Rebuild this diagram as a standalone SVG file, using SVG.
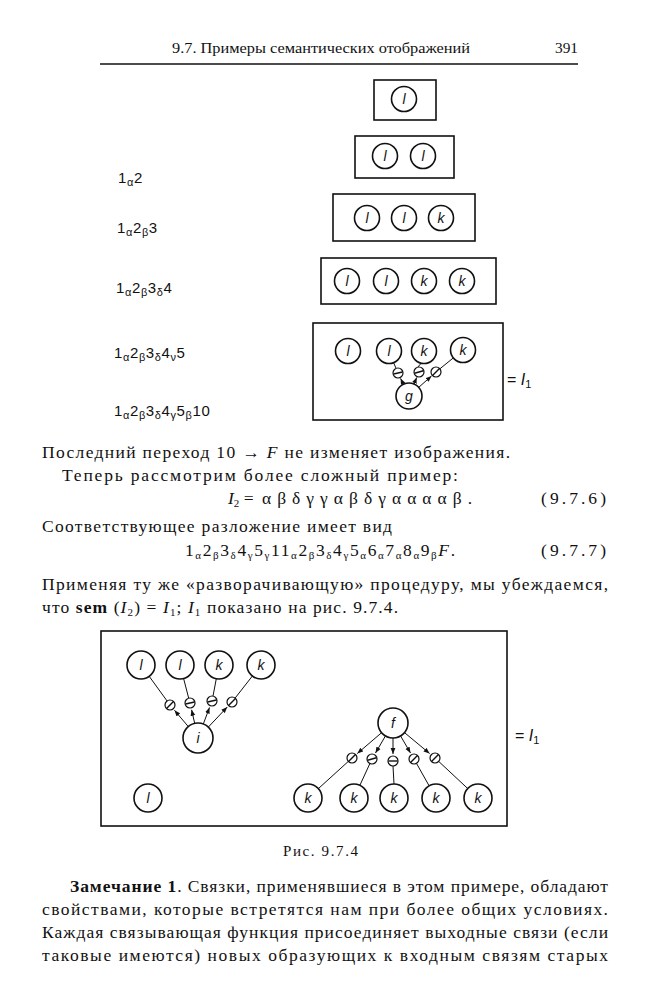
<svg xmlns="http://www.w3.org/2000/svg" width="652" height="1000" viewBox="0 0 652 1000">
<defs>
<style>
.box{fill:none;stroke:#111;stroke-width:1.6}
.nd circle{fill:#fff;stroke:#111;stroke-width:1.6}
.nd text{font-family:"Liberation Sans",sans-serif;font-style:italic;font-size:14px;text-anchor:middle;fill:#111}
.bd circle{fill:#fff;stroke:#111;stroke-width:1.2}
.bd line{stroke:#111;stroke-width:1.4}
.ed line{stroke:#111;stroke-width:1;fill:none}
.ar{marker-end:url(#ah)}
.t{font-family:"Liberation Serif",serif;font-size:17.5px;fill:#111}
.hd{font-family:"Liberation Serif",serif;font-size:15px;fill:#111}
.lab{font-family:"Liberation Sans",sans-serif;font-size:15px;fill:#111;letter-spacing:0.6px}
.s{font-size:11px}
.it{font-style:italic}
.eq{font-family:"Liberation Sans",sans-serif;font-size:16px;fill:#111}
</style>
<marker id="ah" viewBox="0 0 10 10" refX="10" refY="5" markerWidth="6" markerHeight="6" markerUnits="userSpaceOnUse" orient="auto"><path d="M0,1 L10,5 L0,9 z" fill="#111"/></marker>
</defs>
<rect width="652" height="1000" fill="#fff"/>

<!-- header -->
<g id="header">
<text class="hd" x="172" y="53" textLength="298" lengthAdjust="spacingAndGlyphs">9.7.  Примеры семантических отображений</text>
<text class="hd" x="555" y="53" textLength="23" lengthAdjust="spacingAndGlyphs">391</text>
<line x1="100" y1="64" x2="578" y2="64" stroke="#111" stroke-width="1.6"/>
</g>

<!-- left labels -->
<g id="labels">
<text class="lab" x="118" y="183">1<tspan class="s" dy="3">α</tspan><tspan dy="-3">2</tspan></text>
<text class="lab" x="117" y="233">1<tspan class="s" dy="3">α</tspan><tspan dy="-3">2</tspan><tspan class="s" dy="3">β</tspan><tspan dy="-3">3</tspan></text>
<text class="lab" x="116" y="293">1<tspan class="s" dy="3">α</tspan><tspan dy="-3">2</tspan><tspan class="s" dy="3">β</tspan><tspan dy="-3">3</tspan><tspan class="s" dy="3">δ</tspan><tspan dy="-3">4</tspan></text>
<text class="lab" x="114" y="358">1<tspan class="s" dy="3">α</tspan><tspan dy="-3">2</tspan><tspan class="s" dy="3">β</tspan><tspan dy="-3">3</tspan><tspan class="s" dy="3">δ</tspan><tspan dy="-3">4</tspan><tspan class="s" dy="3">ν</tspan><tspan dy="-3">5</tspan></text>
<text class="lab" x="114" y="416">1<tspan class="s" dy="3">α</tspan><tspan dy="-3">2</tspan><tspan class="s" dy="3">β</tspan><tspan dy="-3">3</tspan><tspan class="s" dy="3">δ</tspan><tspan dy="-3">4</tspan><tspan class="s" dy="3">γ</tspan><tspan dy="-3">5</tspan><tspan class="s" dy="3">β</tspan><tspan dy="-3">10</tspan></text>
</g>

<!-- stage frames -->
<g id="frames">
<rect class="box" x="374" y="80" width="62" height="40"/>
<rect class="box" x="355" y="136" width="99" height="42"/>
<rect class="box" x="333" y="194" width="142" height="47"/>
<rect class="box" x="321" y="258" width="175" height="46"/>
<rect class="box" x="313" y="323" width="190" height="97"/>
<rect class="box" x="101" y="631" width="406" height="195"/>
</g>

<!-- connectors -->
<g id="connectors" class="ed">
<!-- stage 5 -->
<line x1="393.5" y1="362.6" x2="396.1" y2="368.4"/>
<line class="ar" x1="403.4" y1="384.3" x2="400.6" y2="378.4"/>
<line x1="421.2" y1="363.2" x2="417.8" y2="367.1"/>
<line class="ar" x1="414" y1="384" x2="416.7" y2="377.5"/>
<line x1="453.7" y1="357.6" x2="439.9" y2="368.8"/>
<line class="ar" x1="418.7" y1="387.4" x2="431.5" y2="376"/>
<!-- fig 9.7.4, i -->
<line x1="149.2" y1="676.3" x2="167.1" y2="701"/>
<line x1="183.6" y1="678.5" x2="188.7" y2="698.2"/>
<line x1="216.3" y1="678.7" x2="213" y2="696.1"/>
<line x1="252.4" y1="676" x2="235.1" y2="698.1"/>
<line class="ar" x1="188.3" y1="726.6" x2="174.5" y2="710.3"/>
<line class="ar" x1="194.7" y1="723.4" x2="191.6" y2="709.8"/>
<line class="ar" x1="203.3" y1="724" x2="209.5" y2="707.5"/>
<line class="ar" x1="208.3" y1="727.1" x2="227.2" y2="707.1"/>
<!-- fig 9.7.4, f -->
<line class="ar" x1="381.6" y1="732.7" x2="357.3" y2="753.5"/>
<line class="ar" x1="385.4" y1="736" x2="375.5" y2="753"/>
<line class="ar" x1="393" y1="738" x2="393" y2="754"/>
<line class="ar" x1="400.6" y1="736" x2="410.5" y2="753"/>
<line class="ar" x1="404.5" y1="732.6" x2="429.6" y2="753.5"/>
<line x1="348.3" y1="761.4" x2="318.4" y2="788.6"/>
<line x1="369.9" y1="763.5" x2="359.9" y2="785.3"/>
<line x1="393" y1="766" x2="394" y2="784"/>
<line x1="416.5" y1="763.4" x2="429.1" y2="785.8"/>
<line x1="438.7" y1="761.4" x2="467.7" y2="788.5"/>
</g>

<!-- nodes: stage 1-4 -->
<g id="s1-l1" class="nd"><circle cx="404" cy="99" r="12.5"/><text x="404" y="104">l</text></g>
<g id="s2-l1" class="nd"><circle cx="385" cy="156" r="12.5"/><text x="385" y="161">l</text></g>
<g id="s2-l2" class="nd"><circle cx="423" cy="156" r="12.5"/><text x="423" y="161">l</text></g>
<g id="s3-l1" class="nd"><circle cx="367" cy="218" r="12.5"/><text x="367" y="223">l</text></g>
<g id="s3-l2" class="nd"><circle cx="404" cy="218" r="12.5"/><text x="404" y="223">l</text></g>
<g id="s3-k1" class="nd"><circle cx="441" cy="218" r="12.5"/><text x="441" y="223">k</text></g>
<g id="s4-l1" class="nd"><circle cx="347" cy="281" r="12.5"/><text x="347" y="286">l</text></g>
<g id="s4-l2" class="nd"><circle cx="386" cy="281" r="12.5"/><text x="386" y="286">l</text></g>
<g id="s4-k1" class="nd"><circle cx="424" cy="281" r="12.5"/><text x="424" y="286">k</text></g>
<g id="s4-k2" class="nd"><circle cx="462" cy="281" r="12.5"/><text x="462" y="286">k</text></g>
<!-- stage 5 -->
<g id="s5-l1" class="nd"><circle cx="348" cy="351" r="12.5"/><text x="348" y="356">l</text></g>
<g id="s5-l2" class="nd"><circle cx="389" cy="351" r="12.5"/><text x="389" y="356">l</text></g>
<g id="s5-k1" class="nd"><circle cx="424" cy="351" r="12.5"/><text x="424" y="356">k</text></g>
<g id="s5-k2" class="nd"><circle cx="463" cy="350" r="12.5"/><text x="463" y="355">k</text></g>
<g id="s5-g" class="nd"><circle cx="409" cy="396" r="13"/><text x="409" y="400.5">g</text></g>
<g id="s5-b1" class="bd"><circle cx="398" cy="373" r="5"/><line x1="393.6" y1="374" x2="402.4" y2="372"/></g>
<g id="s5-b2" class="bd"><circle cx="419" cy="372" r="5"/><line x1="414.6" y1="373.2" x2="423.4" y2="370.8"/></g>
<g id="s5-b3" class="bd"><circle cx="436" cy="372" r="5"/><line x1="432.8" y1="375.2" x2="439.2" y2="368.8"/></g>
<text class="eq" x="507" y="385">= <tspan class="it">I</tspan><tspan class="s" dy="3">1</tspan></text>

<!-- text -->
<g id="text1">
<text class="t" x="42" y="458" textLength="468" lengthAdjust="spacing">Последний переход 10 → <tspan class="it">F</tspan> не изменяет изображения.</text>
<text class="t" x="62" y="481" textLength="396" lengthAdjust="spacing">Теперь рассмотрим более сложный пример:</text>
<text class="t" x="228" y="504"><tspan class="it">I</tspan><tspan font-size="11" dy="3">2</tspan><tspan dy="-3"> =</tspan></text>
<text class="t" x="262" y="504" font-size="18" textLength="210" lengthAdjust="spacing">αβδγγαβδγααααβ.</text>
<text class="t" x="541" y="504" textLength="65" lengthAdjust="spacing">(9.7.6)</text>
<text class="t" x="42" y="532" textLength="350" lengthAdjust="spacing">Соответствующее разложение имеет вид</text>
<text class="t" x="185" y="556" textLength="270" lengthAdjust="spacing">1<tspan font-size="11" dy="3">α</tspan><tspan dy="-3">2</tspan><tspan font-size="11" dy="3">β</tspan><tspan dy="-3">3</tspan><tspan font-size="11" dy="3">δ</tspan><tspan dy="-3">4</tspan><tspan font-size="11" dy="3">γ</tspan><tspan dy="-3">5</tspan><tspan font-size="11" dy="3">γ</tspan><tspan dy="-3">11</tspan><tspan font-size="11" dy="3">α</tspan><tspan dy="-3">2</tspan><tspan font-size="11" dy="3">β</tspan><tspan dy="-3">3</tspan><tspan font-size="11" dy="3">δ</tspan><tspan dy="-3">4</tspan><tspan font-size="11" dy="3">γ</tspan><tspan dy="-3">5</tspan><tspan font-size="11" dy="3">α</tspan><tspan dy="-3">6</tspan><tspan font-size="11" dy="3">α</tspan><tspan dy="-3">7</tspan><tspan font-size="11" dy="3">α</tspan><tspan dy="-3">8</tspan><tspan font-size="11" dy="3">α</tspan><tspan dy="-3">9</tspan><tspan font-size="11" dy="3">β</tspan><tspan dy="-3" class="it">F</tspan>.</text>
<text class="t" x="541" y="556" textLength="65" lengthAdjust="spacing">(9.7.7)</text>
<text class="t" x="42" y="590" textLength="566" lengthAdjust="spacing">Применяя ту же «разворачивающую» процедуру, мы убеждаемся,</text>
<text class="t" x="42" y="613" textLength="356" lengthAdjust="spacing">что <tspan font-weight="bold">sem</tspan> (<tspan class="it">I</tspan><tspan font-size="11" dy="3">2</tspan><tspan dy="-3">) = </tspan><tspan class="it">I</tspan><tspan font-size="11" dy="3">1</tspan><tspan dy="-3">;  </tspan><tspan class="it">I</tspan><tspan font-size="11" dy="3">1</tspan><tspan dy="-3">  показано на рис. 9.7.4.</tspan></text>
</g>

<!-- fig 9.7.4 nodes -->
<g id="f-l1" class="nd"><circle cx="141" cy="665" r="14"/><text x="141" y="670">l</text></g>
<g id="f-l2" class="nd"><circle cx="180" cy="665" r="14"/><text x="180" y="670">l</text></g>
<g id="f-k1" class="nd"><circle cx="219" cy="665" r="14"/><text x="219" y="670">k</text></g>
<g id="f-k2" class="nd"><circle cx="261" cy="665" r="14"/><text x="261" y="670">k</text></g>
<g id="f-i" class="nd"><circle cx="198" cy="738" r="15"/><text x="198" y="743">i</text></g>
<g id="f-l3" class="nd"><circle cx="148" cy="798" r="14"/><text x="148" y="803">l</text></g>
<g id="f-b1" class="bd"><circle cx="170" cy="705" r="5"/><line x1="166.8" y1="708.2" x2="173.2" y2="701.8"/></g>
<g id="f-b2" class="bd"><circle cx="190" cy="703" r="5"/><line x1="185.6" y1="704" x2="194.4" y2="702"/></g>
<g id="f-b3" class="bd"><circle cx="212" cy="701" r="5"/><line x1="207.6" y1="702" x2="216.4" y2="700"/></g>
<g id="f-b4" class="bd"><circle cx="232" cy="702" r="5"/><line x1="228.8" y1="705.2" x2="235.2" y2="698.8"/></g>
<g id="f-f" class="nd"><circle cx="393" cy="723" r="15"/><text x="393" y="728">f</text></g>
<g id="f-c1" class="bd"><circle cx="352" cy="758" r="5"/><line x1="348.8" y1="761.2" x2="355.2" y2="754.8"/></g>
<g id="f-c2" class="bd"><circle cx="372" cy="759" r="5"/><line x1="367.6" y1="760.2" x2="376.4" y2="757.8"/></g>
<g id="f-c3" class="bd"><circle cx="393" cy="761" r="5"/><line x1="388.5" y1="761" x2="397.5" y2="761"/></g>
<g id="f-c4" class="bd"><circle cx="414" cy="759" r="5"/><line x1="410.8" y1="762.2" x2="417.2" y2="755.8"/></g>
<g id="f-c5" class="bd"><circle cx="435" cy="758" r="5"/><line x1="431.8" y1="761.2" x2="438.2" y2="754.8"/></g>
<g id="f-k3" class="nd"><circle cx="308" cy="798" r="14"/><text x="308" y="803">k</text></g>
<g id="f-k4" class="nd"><circle cx="354" cy="798" r="14"/><text x="354" y="803">k</text></g>
<g id="f-k5" class="nd"><circle cx="394" cy="798" r="14"/><text x="394" y="803">k</text></g>
<g id="f-k6" class="nd"><circle cx="436" cy="798" r="14"/><text x="436" y="803">k</text></g>
<g id="f-k7" class="nd"><circle cx="478" cy="798" r="14"/><text x="478" y="803">k</text></g>
<text class="eq" x="515" y="741">= <tspan class="it">I</tspan><tspan class="s" dy="3">1</tspan></text>
<text class="hd" x="283" y="856" textLength="75" lengthAdjust="spacing">Рис. 9.7.4</text>

<g id="text2">
<text class="t" x="70" y="892" textLength="538" lengthAdjust="spacing"><tspan font-weight="bold">Замечание 1</tspan>. Связки, применявшиеся в этом примере, обладают</text>
<text class="t" x="42" y="915" textLength="566" lengthAdjust="spacing">свойствами, которые встретятся нам при более общих условиях.</text>
<text class="t" x="42" y="938" textLength="566" lengthAdjust="spacing">Каждая связывающая функция присоединяет выходные связи (если</text>
<text class="t" x="42" y="961" textLength="566" lengthAdjust="spacing">таковые имеются) новых образующих к входным связям старых</text>
</g>
</svg>
